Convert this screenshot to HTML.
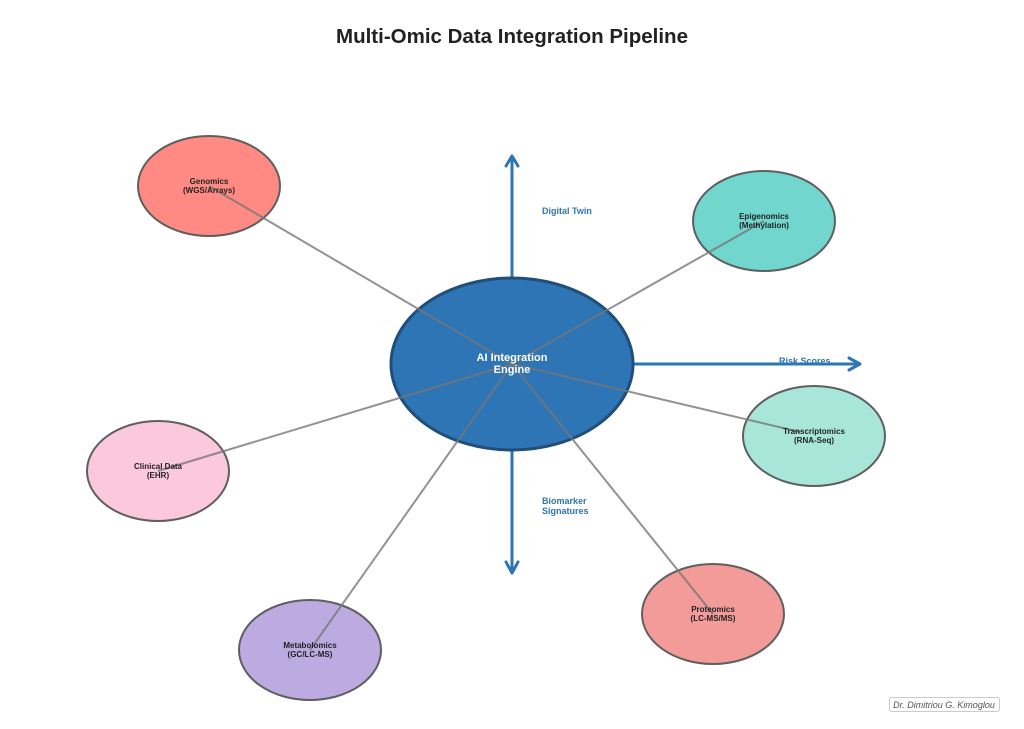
<!DOCTYPE html>
<html><head><style>body{margin:0;background:#fff}svg{display:block}</style></head><body>
<svg width="1024" height="729" xmlns="http://www.w3.org/2000/svg" font-family="Liberation Sans, sans-serif">
<rect width="1024" height="729" fill="#fff"/>
<text x="512" y="43" text-anchor="middle" font-size="20.5" font-weight="bold" fill="#222">Multi-Omic Data Integration Pipeline</text>
<g stroke="#2e75b6" stroke-width="3" fill="none" stroke-linecap="round" stroke-linejoin="round">
<line x1="512" y1="278" x2="512" y2="157"/><polyline points="506,166 512,156 518,166"/>
<line x1="512" y1="450" x2="512" y2="572"/><polyline points="506,562 512,573 518,562"/>
<line x1="633" y1="364" x2="859" y2="364"/><polyline points="849,358 860,364 849,370"/>
</g>
<g font-size="9" font-weight="bold" fill="#2e75b6">
<text x="542" y="214">Digital Twin</text>
<text x="779" y="364">Risk Scores</text>
<text x="542" y="504">Biomarker</text><text x="542" y="514">Signatures</text>
</g>
<g stroke="#5f5f5f" stroke-width="2">
<ellipse cx="209" cy="186" rx="71" ry="50" fill="#ff8a84"/>
<ellipse cx="764" cy="221" rx="71" ry="50" fill="#70d6ce"/>
<ellipse cx="814" cy="436" rx="71" ry="50" fill="#a8e6da"/>
<ellipse cx="713" cy="614" rx="71" ry="50" fill="#f29b98"/>
<ellipse cx="310" cy="650" rx="71" ry="50" fill="#bcaae0"/>
<ellipse cx="158" cy="471" rx="71" ry="50" fill="#fcc8dc"/>
</g>
<ellipse cx="512" cy="364" rx="121" ry="86" fill="#2e75b6" stroke="#1f4e79" stroke-width="3"/>
<g stroke="#777" stroke-opacity="0.8" stroke-width="2">
<line x1="512" y1="364" x2="209" y2="186"/>
<line x1="512" y1="364" x2="764" y2="221"/>
<line x1="512" y1="364" x2="800" y2="432"/>
<line x1="512" y1="364" x2="713" y2="614"/>
<line x1="512" y1="364" x2="310" y2="650"/>
<line x1="512" y1="364" x2="158" y2="471"/>
</g>
<g font-size="11" font-weight="bold" fill="#fff" text-anchor="middle">
<text x="512" y="361">AI Integration</text><text x="512" y="373">Engine</text></g>
<g font-size="8" font-weight="bold" fill="#222" text-anchor="middle">
<text x="209" y="184">Genomics</text><text x="209" y="193">(WGS/Arrays)</text>
<text x="764" y="219">Epigenomics</text><text x="764" y="228">(Methylation)</text>
<text x="814" y="434">Transcriptomics</text><text x="814" y="443">(RNA-Seq)</text>
<text x="713" y="612">Proteomics</text><text x="713" y="621">(LC-MS/MS)</text>
<text x="310" y="648">Metabolomics</text><text x="310" y="657">(GC/LC-MS)</text>
<text x="158" y="469">Clinical Data</text><text x="158" y="478">(EHR)</text>
</g>
<rect x="889.5" y="697.5" width="110" height="14" rx="2" fill="#fff" stroke="#ccc"/>
<text x="944" y="708" font-size="9" font-style="italic" fill="#555" text-anchor="middle">Dr. Dimitriou G. Kimoglou</text>
</svg>
</body></html>
